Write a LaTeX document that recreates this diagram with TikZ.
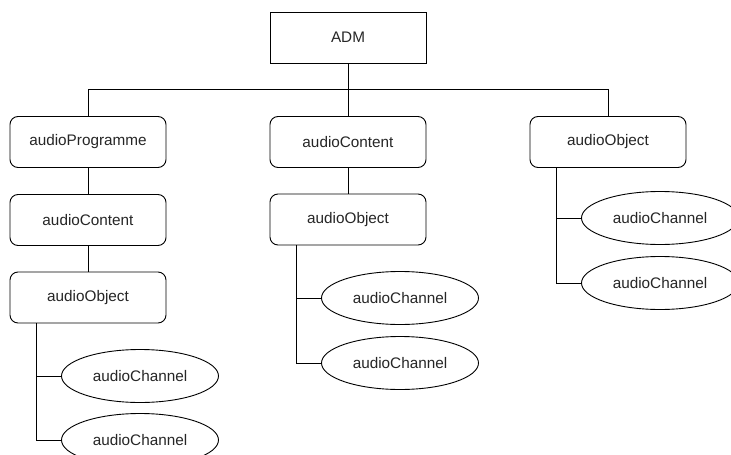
\documentclass[tikz,border=0pt]{standalone}
\usepackage{fontspec}
\setmainfont{Liberation Sans}
\usetikzlibrary{shapes.geometric}
\begin{document}
\begin{tikzpicture}[x=1pt,y=-1pt,
  every node/.style={font=\fontsize{15.3}{18}\selectfont, text=black!85, inner sep=0pt},
  sq/.style={draw, line width=0.9pt, minimum width=156pt, minimum height=51pt},
  rbox/.style={sq, rounded corners=8pt},
  chan/.style={draw, line width=0.9pt, ellipse, minimum width=157pt, minimum height=53pt},
  link/.style={draw, line width=0.9pt}]
\clip (0,0) rectangle (731,455);
\fill[white] (0,0) rectangle (731,455);
\node[sq] (adm) at (348,37.5) {ADM};
\node[rbox] (prog) at (88,142) {audioProgramme};
\node[rbox] (contM) at (348,142) {audioContent};
\node[rbox] (objR) at (608,142) {audioObject};
\node[rbox] (contL) at (88,220) {audioContent};
\node[rbox] (objL) at (88,297.5) {audioObject};
\node[rbox] (objM) at (348,219.5) {audioObject};
\node[chan] (chL1) at (140,376) {audioChannel};
\node[chan] (chL2) at (140,440) {audioChannel};
\node[chan] (chM1) at (400,298) {audioChannel};
\node[chan] (chM2) at (400,363) {audioChannel};
\node[chan] (chR1) at (660,218) {audioChannel};
\node[chan] (chR2) at (660,283) {audioChannel};
\coordinate (bus) at (348,89);
\coordinate (tL) at (36,323);
\coordinate (tM) at (296,245);
\coordinate (tR) at (556,168);
\path[link] (adm.south) -- (bus);
\path[link] (bus) -| (prog.north);
\path[link] (bus) -| (objR.north);
\path[link] (bus) -- (contM.north);
\path[link] (prog) -- (contL);
\path[link] (contL) -- (objL);
\path[link] (contM) -- (objM);
\path[link] (tL) |- (chL1.west);
\path[link] (tL) |- (chL2.west);
\path[link] (tM) |- (chM1.west);
\path[link] (tM) |- (chM2.west);
\path[link] (tR) |- (chR1.west);
\path[link] (tR) |- (chR2.west);
\end{tikzpicture}
\end{document}
